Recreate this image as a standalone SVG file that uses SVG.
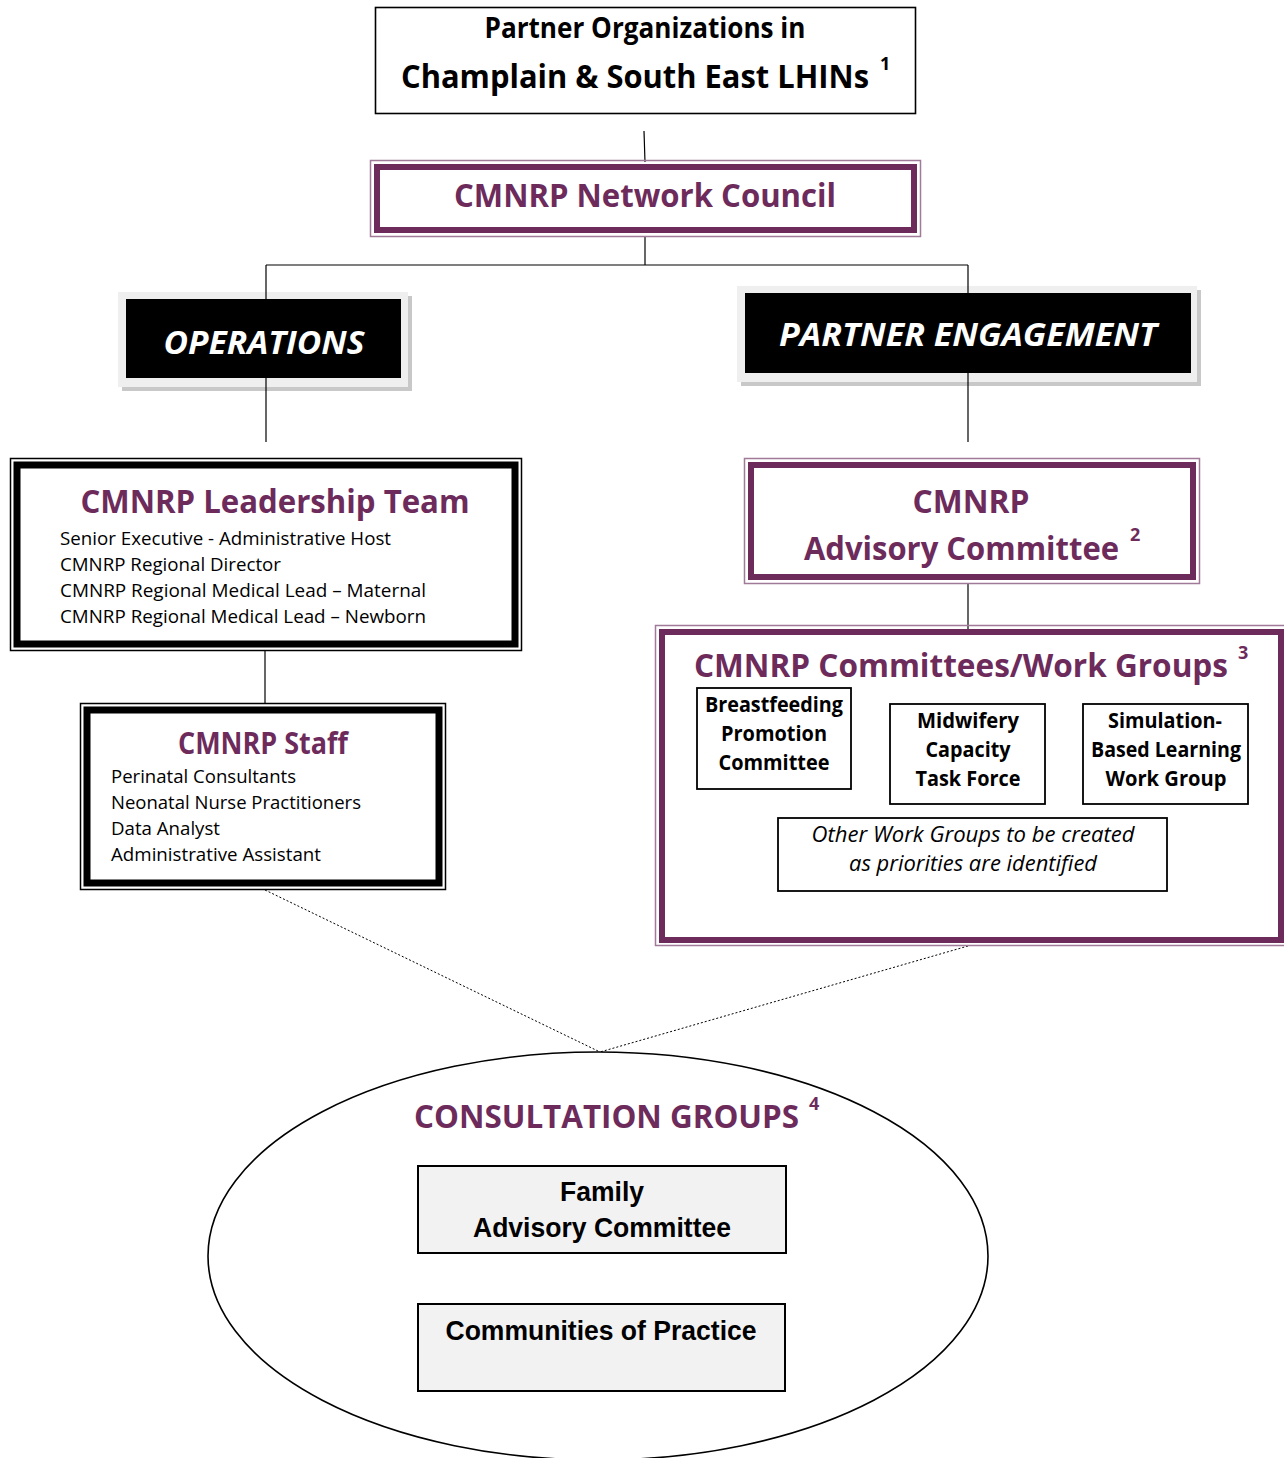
<svg xmlns="http://www.w3.org/2000/svg" width="1284" height="1458" viewBox="0 0 1284 1458">
<style>
.t{font-family:"Open Sans","Noto Sans","DejaVu Sans",sans-serif;}
.b{font-weight:bold;}
.p{fill:#6d2b5c;}
.k{fill:#000;}
.w{fill:#fff;}
.c{text-anchor:middle;}
.n{font-family:"Liberation Sans",Arial,sans-serif;font-weight:bold;fill:#000;text-anchor:middle;}
.conn{stroke:#000;stroke-width:1.2;fill:none;}
.dot{stroke:#000;stroke-width:1;fill:none;stroke-dasharray:2 2;}
.thin{fill:none;stroke:#000;stroke-width:1.5;}
.pthin{fill:none;stroke:#a07a98;stroke-width:1.5;}
.pthick{fill:#fff;stroke:#6d2b5c;stroke-width:6;}
.kthick{fill:#fff;stroke:#000;stroke-width:7;}
.sub{fill:#fff;stroke:#000;stroke-width:1.8;}
.gray{fill:#f2f2f2;stroke:#000;stroke-width:2;}
.sup{font-size:18px;}
</style>
<rect width="1284" height="1458" fill="#fff"/>

<g id="connectors">
<line class="conn" x1="644" y1="131" x2="645" y2="162"/>
<line class="conn" x1="645" y1="236" x2="645" y2="265"/>
<line class="conn" x1="266" y1="265" x2="968" y2="265"/>
<line class="conn" x1="266" y1="265" x2="266" y2="442"/>
<line class="conn" x1="968" y1="265" x2="968" y2="442"/>
<line class="conn" x1="265" y1="651" x2="265" y2="703"/>
<line class="conn" x1="968" y1="584" x2="968" y2="632"/>
<line class="dot" x1="265" y1="890" x2="600" y2="1052"/>
<line class="dot" x1="968" y1="946" x2="600" y2="1052"/>
</g>

<g id="partner-orgs">
<rect x="375.5" y="7.5" width="540" height="106" fill="#fff" stroke="#000" stroke-width="1.6"/>
<text class="t b k c" x="645" y="38" font-size="28" textLength="321" lengthAdjust="spacingAndGlyphs">Partner Organizations in</text>
<text class="t b k" x="401" y="88" font-size="33"><tspan textLength="468" lengthAdjust="spacingAndGlyphs">Champlain &amp; South East LHINs</tspan><tspan class="sup" dx="11" dy="-18">1</tspan></text>
</g>

<g id="network-council">
<rect class="pthin" x="370.5" y="160.5" width="550" height="76"/>
<rect class="pthick" x="377" y="167" width="537" height="63"/>
<text class="t b p c" x="645" y="207" font-size="33" textLength="382" lengthAdjust="spacingAndGlyphs">CMNRP Network Council</text>
</g>

<g id="operations">
<rect x="122" y="296" width="290" height="95" fill="#c8c8c8"/>
<rect x="118" y="292" width="290" height="95" fill="#efefef"/>
<rect x="126" y="299" width="275" height="79" fill="#000"/>
<line class="conn" x1="266" y1="292" x2="266" y2="299"/>
<line class="conn" x1="266" y1="378" x2="266" y2="391"/>
<text class="t b w c" x="264" y="354" font-size="33" font-style="italic" textLength="201" lengthAdjust="spacingAndGlyphs">OPERATIONS</text>
</g>

<g id="partner-engagement">
<rect x="741" y="290" width="460" height="96" fill="#c8c8c8"/>
<rect x="737" y="286" width="460" height="96" fill="#efefef"/>
<rect x="745" y="293" width="446" height="80" fill="#000"/>
<line class="conn" x1="968" y1="286" x2="968" y2="293"/>
<line class="conn" x1="968" y1="373" x2="968" y2="386"/>
<text class="t b w c" x="968" y="346" font-size="33" font-style="italic" textLength="378" lengthAdjust="spacingAndGlyphs">PARTNER ENGAGEMENT</text>
</g>

<g id="leadership-team">
<rect class="thin" x="10.5" y="458.5" width="511" height="192"/>
<rect class="kthick" x="17" y="465" width="498" height="179"/>
<text class="t b p c" x="275" y="513" font-size="33" textLength="389" lengthAdjust="spacingAndGlyphs">CMNRP Leadership Team</text>
<text class="t k" x="60" y="545" font-size="19" textLength="331" lengthAdjust="spacingAndGlyphs">Senior Executive - Administrative Host</text>
<text class="t k" x="60" y="571" font-size="19" textLength="221" lengthAdjust="spacingAndGlyphs">CMNRP Regional Director</text>
<text class="t k" x="60" y="597" font-size="19" textLength="366" lengthAdjust="spacingAndGlyphs">CMNRP Regional Medical Lead – Maternal</text>
<text class="t k" x="60" y="623" font-size="19" textLength="366" lengthAdjust="spacingAndGlyphs">CMNRP Regional Medical Lead – Newborn</text>
</g>

<g id="staff">
<rect class="thin" x="80.5" y="703.5" width="365" height="186"/>
<rect class="kthick" x="87" y="710" width="352" height="173"/>
<text class="t b p c" x="263" y="754" font-size="30" textLength="170" lengthAdjust="spacingAndGlyphs">CMNRP Staff</text>
<text class="t k" x="111" y="783" font-size="19" textLength="185" lengthAdjust="spacingAndGlyphs">Perinatal Consultants</text>
<text class="t k" x="111" y="809" font-size="19" textLength="250" lengthAdjust="spacingAndGlyphs">Neonatal Nurse Practitioners</text>
<text class="t k" x="111" y="835" font-size="19" textLength="109" lengthAdjust="spacingAndGlyphs">Data Analyst</text>
<text class="t k" x="111" y="861" font-size="19" textLength="210" lengthAdjust="spacingAndGlyphs">Administrative Assistant</text>
</g>

<g id="advisory-committee">
<rect class="pthin" x="744.5" y="458.5" width="455" height="125"/>
<rect class="pthick" x="751" y="465" width="442" height="112"/>
<text class="t b p c" x="971" y="513" font-size="33" textLength="117" lengthAdjust="spacingAndGlyphs">CMNRP</text>
<text class="t b p" x="804" y="560" font-size="33"><tspan textLength="315" lengthAdjust="spacingAndGlyphs">Advisory Committee</tspan><tspan class="sup" dx="11" dy="-19">2</tspan></text>
</g>

<g id="committees">
<rect class="pthin" x="655.5" y="625.5" width="640" height="320"/>
<rect class="pthick" x="662" y="632" width="619" height="308"/>
<text class="t b p" x="694" y="677" font-size="33"><tspan textLength="534" lengthAdjust="spacingAndGlyphs">CMNRP Committees/Work Groups</tspan><tspan class="sup" dx="10" dy="-18">3</tspan></text>
</g>

<g id="breastfeeding">
<rect class="sub" x="697" y="688" width="154" height="101"/>
<text class="t b k c" x="774" y="712" font-size="21" textLength="138" lengthAdjust="spacingAndGlyphs">Breastfeeding</text>
<text class="t b k c" x="774" y="741" font-size="21" textLength="106" lengthAdjust="spacingAndGlyphs">Promotion</text>
<text class="t b k c" x="774" y="770" font-size="21" textLength="111" lengthAdjust="spacingAndGlyphs">Committee</text>
</g>

<g id="midwifery">
<rect class="sub" x="890" y="704" width="155" height="100"/>
<text class="t b k c" x="968" y="728" font-size="21" textLength="102" lengthAdjust="spacingAndGlyphs">Midwifery</text>
<text class="t b k c" x="968" y="757" font-size="21" textLength="85" lengthAdjust="spacingAndGlyphs">Capacity</text>
<text class="t b k c" x="968" y="786" font-size="21" textLength="105" lengthAdjust="spacingAndGlyphs">Task Force</text>
</g>

<g id="simulation">
<rect class="sub" x="1083" y="704" width="165" height="100"/>
<text class="t b k c" x="1165" y="728" font-size="21" textLength="114" lengthAdjust="spacingAndGlyphs">Simulation-</text>
<text class="t b k c" x="1166" y="757" font-size="21" textLength="150" lengthAdjust="spacingAndGlyphs">Based Learning</text>
<text class="t b k c" x="1166" y="786" font-size="21" textLength="121" lengthAdjust="spacingAndGlyphs">Work Group</text>
</g>

<g id="other-groups">
<rect class="sub" x="778" y="818" width="389" height="73"/>
<text class="t k c" x="973" y="842" font-size="21" font-style="italic" textLength="323" lengthAdjust="spacingAndGlyphs">Other Work Groups to be created</text>
<text class="t k c" x="973" y="871" font-size="21" font-style="italic" textLength="248" lengthAdjust="spacingAndGlyphs">as priorities are identified</text>
</g>

<g id="consultation-groups">
<ellipse cx="598" cy="1256" rx="390" ry="204" fill="#fff" stroke="#000" stroke-width="1.6"/>
<text class="t b p" x="414" y="1128" font-size="33"><tspan textLength="385" lengthAdjust="spacingAndGlyphs">CONSULTATION GROUPS</tspan><tspan class="sup" dx="10" dy="-18">4</tspan></text>
</g>

<g id="family-advisory">
<rect class="gray" x="418" y="1166" width="368" height="87"/>
<text class="n" x="602" y="1201" font-size="27" textLength="84" lengthAdjust="spacingAndGlyphs">Family</text>
<text class="n" x="602" y="1237" font-size="27" textLength="258" lengthAdjust="spacingAndGlyphs">Advisory Committee</text>
</g>

<g id="communities-practice">
<rect class="gray" x="418" y="1304" width="367" height="87"/>
<text class="n" x="601" y="1340" font-size="27" textLength="311" lengthAdjust="spacingAndGlyphs">Communities of Practice</text>
</g>
</svg>
